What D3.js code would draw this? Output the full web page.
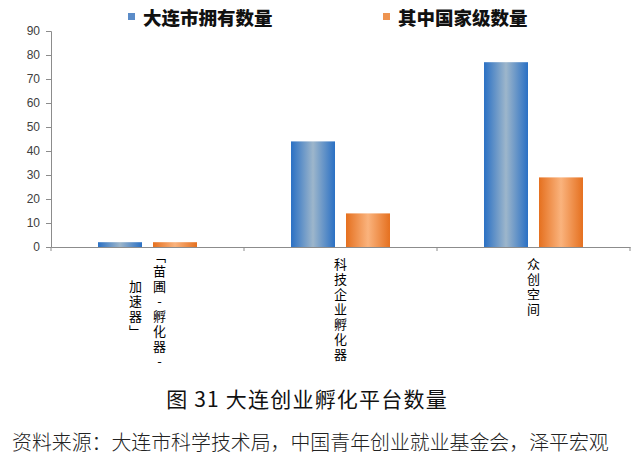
<!DOCTYPE html>
<html><head><meta charset="utf-8">
<script src="https://cdn.jsdelivr.net/npm/d3@7/dist/d3.min.js"></script>
<style>
html,body{margin:0;padding:0;background:#fff;}
svg{display:block;}
</style></head>
<body>
<svg id="chart" width="640" height="461"></svg>
<script>
const categories = ["「苗圃-孵化器-加速器」", "科技企业孵化器", "众创空间"];
// stacked label columns (right column first, as in reference)
const categoryColumns = [["「苗圃-孵化器-", "加速器」"], ["科技企业孵化器"], ["众创空间"]];
const seriesNames = ["大连市拥有数量", "其中国家级数量"];
const dalianTotal = [2, 44, 77];
const nationalLevel = [2, 14, 29];
const yTicks = [0, 10, 20, 30, 40, 50, 60, 70, 80, 90];
const caption = "图 31  大连创业孵化平台数量";
const source = "资料来源：大连市科学技术局，中国青年创业就业基金会，泽平宏观";

const svg = d3.select("#chart");
const defs = svg.append("defs");
function grad(id, edge, mid) {
  const g = defs.append("linearGradient").attr("id", id).attr("x1", "0%").attr("x2", "100%").attr("y1", "0%").attr("y2", "0%");
  g.append("stop").attr("offset", "0%").attr("stop-color", edge);
  g.append("stop").attr("offset", "50%").attr("stop-color", mid);
  g.append("stop").attr("offset", "100%").attr("stop-color", edge);
}
grad("gBlue", "#2A70C4", "#9DB6CB");
grad("gOrange", "#E5701F", "#FAB37D");

const mLeft = 51, mRight = 630, mTop = 31, mBottom = 247;
const x = d3.scaleBand().domain(categories).range([mLeft, mRight]).paddingInner(0).paddingOuter(0);
const xs = d3.scaleBand().domain(seriesNames).range([0, x.bandwidth()]).paddingInner(0.2).paddingOuter(0.855);
const y = d3.scaleLinear().domain([0, 90]).range([mBottom, mTop]);

// Y axis
const yAxis = svg.append("g").attr("transform", `translate(${mLeft},0)`)
  .call(d3.axisLeft(y).tickValues(yTicks).tickSize(5).tickPadding(6));
yAxis.select(".domain").attr("stroke", "#8c8c8c");
yAxis.selectAll(".tick line").attr("stroke", "#8c8c8c");
yAxis.selectAll("text").attr("fill", "#404040").style("font-family", "Liberation Sans, Arial, sans-serif").style("font-size", "12px");

// bars
const series = [
  {name: seriesNames[0], values: dalianTotal, fill: "url(#gBlue)"},
  {name: seriesNames[1], values: nationalLevel, fill: "url(#gOrange)"}
];
series.forEach(s => {
  svg.append("g").selectAll("rect").data(categories).join("rect")
    .attr("x", (c) => x(c) + xs(s.name))
    .attr("width", xs.bandwidth())
    .attr("y", (c, i) => y(s.values[i]))
    .attr("height", (c, i) => y(0) - y(s.values[i]))
    .attr("fill", s.fill);
});

// X axis
const xAxis = svg.append("g").attr("transform", `translate(0,${mBottom})`)
  .call(d3.axisBottom(x).tickSize(0).tickFormat(""));
xAxis.select(".domain").attr("stroke", "#8c8c8c");
const boundaries = categories.map(c => x(c)).concat([mRight]);
svg.append("g").selectAll("line").data(boundaries).join("line")
  .attr("x1", d => d).attr("x2", d => d).attr("y1", mBottom).attr("y2", mBottom + 4)
  .attr("stroke", "#8c8c8c");

// X labels: vertical text columns
const lab = svg.append("g").style("font-family", "Noto Sans CJK SC, sans-serif").style("font-size", "13px").attr("fill", "#000");
categoryColumns.forEach((cols, ci) => {
  const cx = x(categories[ci]) + x.bandwidth() / 2;
  const n = cols.length;
  const colGap = 24;
  cols.forEach((col, k) => {
    const colX = cx + (n - 1) * colGap / 2 - k * colGap;
    lab.append("text")
      .attr("x", colX).attr("y", n > 1 ? 310 : 258)
      .attr("text-anchor", n > 1 ? "middle" : "start")
      .style("writing-mode", "vertical-rl")
      .style("text-orientation", "upright")
      .style("letter-spacing", "2px")
      .text(col);
  });
});

// legend
const legendX = [128, 383];
const leg = svg.append("g");
series.forEach((s, i) => {
  leg.append("rect").attr("x", legendX[i]).attr("y", 13).attr("width", 7).attr("height", 7)
    .attr("fill", i === 0 ? "#5B8CC8" : "#EE9450");
  leg.append("text").attr("x", legendX[i] + 15).attr("y", 17).attr("dominant-baseline", "central")
    .style("font-family", "Noto Sans CJK SC, sans-serif").style("font-weight", "900").style("font-size", "18.5px")
    .attr("fill", "#111").text(s.name);
});

// caption & source
svg.append("text").attr("x", 307).attr("y", 398).attr("text-anchor", "middle").attr("dominant-baseline", "central")
  .style("font-family", "Noto Sans CJK SC, sans-serif").style("font-size", "21px").style("letter-spacing", "1.2px")
  .attr("fill", "#111").text(caption);
svg.append("text").attr("x", 12).attr("y", 441).attr("dominant-baseline", "central")
  .style("font-family", "Noto Sans CJK SC, sans-serif").style("font-size", "19.9px").style("font-weight", "300").attr("fill", "#222").text(source);
</script>
</body></html>
